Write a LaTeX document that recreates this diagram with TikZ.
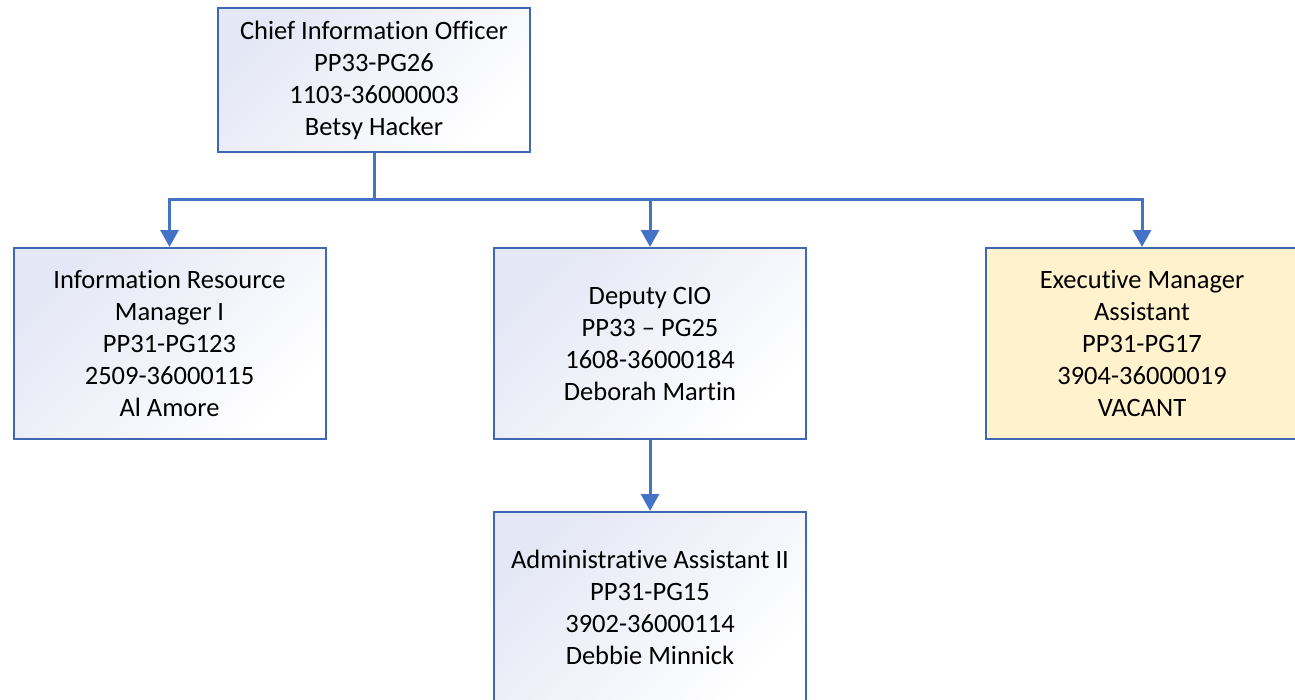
\documentclass[tikz,border=0pt]{standalone}
\usepackage{fontspec}
\setmainfont[Ligatures={NoCommon,NoRare,NoContextual}]{Carlito}
\usetikzlibrary{arrows.meta}
\definecolor{linkblue}{HTML}{4472C4}
\definecolor{boxblue}{HTML}{3F67B4}
\definecolor{lavender}{RGB}{228,231,245}
\definecolor{paleyellow}{HTML}{FFF2CC}
\tikzset{
  post/.style={draw=boxblue, line width=2pt, minimum width=312pt, inner sep=0pt,
    align=center, font=\fontsize{26.5pt}{32pt}\selectfont,
    top color=lavender, bottom color=white, shading angle=45},
  vacant/.style={post, fill=paleyellow, shading=none, top color=paleyellow, bottom color=paleyellow},
  link/.style={draw=linkblue, line width=3pt, -{Triangle[width=18pt,length=17pt]}}
}
\begin{document}
\begin{tikzpicture}[x=1pt,y=-1pt]
\useasboundingbox (0,0) rectangle (1295,699);
\node[post, minimum height=144pt] (cio) at (374,80)
  {Chief Information Officer\\PP33-PG26\\1103-36000003\\Betsy Hacker};
\node[post, minimum height=191pt] (irm) at (169.5,343.5)
  {Information Resource\\Manager I\\PP31-PG123\\2509-36000115\\Al Amore};
\node[post, minimum height=191pt] (dep) at (650,343.5)
  {Deputy CIO\\PP33 – PG25\\1608-36000184\\Deborah Martin};
\node[vacant, minimum height=191pt] (exec) at (1142,343.5)
  {Executive Manager\\Assistant\\PP31-PG17\\3904-36000019\\VACANT};
\node[post, minimum height=191pt] (adm) at (650,607.5)
  {Administrative Assistant II\\PP31-PG15\\3902-36000114\\Debbie Minnick};
\coordinate (bus) at (374,199);
\draw[link] (cio.south) -- (bus) -| (irm.north);
\draw[link] (cio.south) -- (bus) -| (dep.north);
\draw[link] (cio.south) -- (bus) -| (exec.north);
\draw[link] (dep.south) -- (adm.north);
\end{tikzpicture}
\end{document}
